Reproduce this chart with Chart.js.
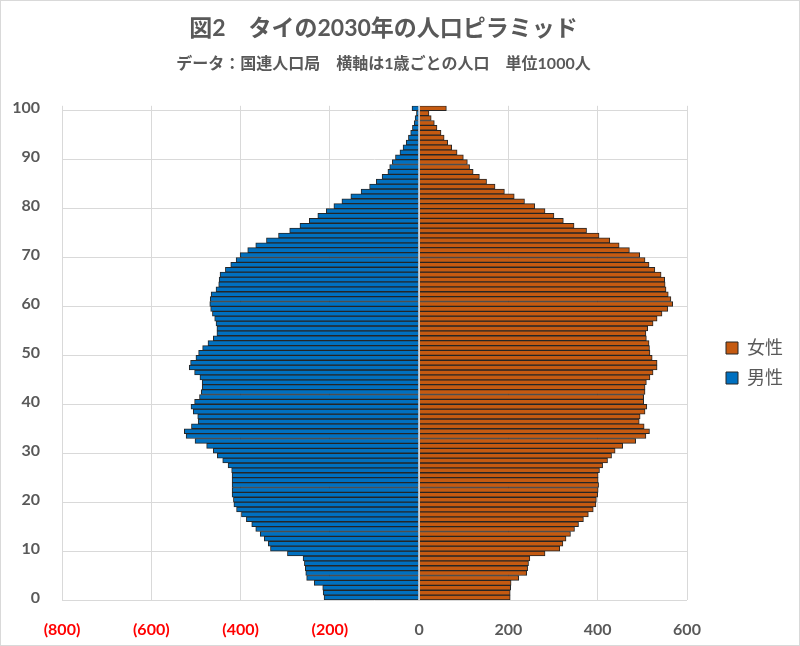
<!DOCTYPE html>
<html>
<head>
<meta charset="utf-8">
<script src="https://cdn.jsdelivr.net/npm/chart.js@4"></script>
<style>
  html, body { margin: 0; padding: 0; background: #fff; }
  #wrap { width: 798px; height: 644px; border: 1px solid #d9d9d9; }
</style>
</head>
<body>
<div id="wrap"><canvas id="canvas" width="798" height="644"></canvas></div>
<script>
// age 0 .. 100 (100 = 100+)
const ages = Array.from({ length: 101 }, (_, i) => String(i));

// thousands of people
const male = [
  213, 215, 216, 235, 252, 254, 255, 257, 260, 295,
  333, 338, 347, 356, 366, 375, 387, 398, 409, 415,
  416, 419, 419, 419, 419, 419, 420, 428, 440, 452,
  461, 476, 502, 522, 526, 510, 495, 496, 506, 511,
  503, 492, 488, 486, 486, 491, 503, 515, 512, 500,
  494, 485, 473, 461, 453, 453, 455, 458, 463, 467,
  469, 468, 466, 455, 449, 448, 446, 434, 422, 410,
  401, 384, 366, 342, 315, 290, 267, 246, 227, 208,
  191, 173, 153, 130, 111, 96, 83, 70, 66, 60,
  53, 43, 36, 29, 24, 19, 15, 11, 9, 6,
  16
];
const female = [
  204, 204, 205, 206, 223, 241, 243, 245, 248, 282,
  315, 322, 329, 339, 348, 357, 368, 379, 390, 396,
  397, 400, 401, 402, 401, 401, 404, 411, 422, 431,
  439, 456, 485, 508, 516, 504, 493, 495, 506, 510,
  503, 503, 506, 506, 509, 517, 524, 533, 533, 522,
  517, 516, 515, 509, 508, 512, 524, 533, 544, 557,
  568, 564, 558, 553, 551, 550, 542, 528, 515, 506,
  494, 471, 448, 427, 403, 375, 347, 323, 302, 282,
  259, 236, 213, 191, 170, 151, 135, 121, 113, 108,
  99, 85, 73, 64, 56, 49, 40, 34, 27, 22,
  61
];

const FONT = "Lato, 'Noto Sans CJK JP', sans-serif";
const GREY = '#595959';

// y axis line at 0 is drawn on top of the bars
const zeroLine = {
  id: 'zeroLine',
  afterDatasetsDraw(chart) {
    const x = chart.scales.x.getPixelForValue(0);
    const a = chart.chartArea;
    const c = chart.ctx;
    c.save();
    c.strokeStyle = '#cfd4da';
    c.lineWidth = 1.5;
    c.beginPath();
    c.moveTo(x, a.top);
    c.lineTo(x, a.bottom);
    c.stroke();
    c.restore();
  }
};

// nudge the legend into the empty space on the right, like Excel does
const legendShift = {
  id: 'legendShift',
  afterLayout(chart) {
    const lg = chart.legend;
    lg.left += 27;
    lg.right += 27;
    lg.top += 40;
    lg.bottom += 40;
  }
};

new Chart(document.getElementById('canvas'), {
  type: 'bar',
  data: {
    labels: ages,
    datasets: [
      {
        label: '男性',
        data: male.map(v => -v),
        backgroundColor: '#0070C0',
        borderColor: '#262626',
        borderWidth: 1
      },
      {
        label: '女性',
        data: female,
        backgroundColor: '#C55A11',
        borderColor: '#262626',
        borderWidth: 1
      }
    ]
  },
  options: {
    indexAxis: 'y',
    responsive: false,
    animation: false,
    barPercentage: 1,
    categoryPercentage: 1,
    layout: { padding: { left: 0, right: 33, top: 0, bottom: 0 } },
    scales: {
      x: {
        stacked: true,
        min: -800,
        max: 600,
        afterFit: s => { s.height = 45; },
        ticks: {
          stepSize: 200,
          padding: 20,
          font: { family: FONT, size: 16, weight: 'bold' },
          color: ctx => ctx.tick && ctx.tick.value < 0 ? '#FF0000' : GREY,
          callback: v => v < 0 ? '(' + (-v) + ')' : String(v)
        },
        grid: { color: '#d9d9d9', drawTicks: false },
        border: { display: false }
      },
      y: {
        stacked: true,
        reverse: true,
        afterFit: s => { s.width = 61; },
        ticks: {
          autoSkip: false,
          padding: 22,
          font: { family: FONT, size: 16, weight: 'bold' },
          color: GREY,
          callback: (v, i) => i % 10 === 0 ? ages[i] : ''
        },
        grid: {
          drawTicks: false,
          color: ctx => ctx.index % 10 === 0 ? '#d9d9d9' : 'rgba(0,0,0,0)'
        },
        border: { display: false }
      }
    },
    plugins: {
      title: {
        display: true,
        text: '図2　タイの2030年の人口ピラミッド',
        color: GREY,
        font: { family: FONT, size: 23, weight: 'bold' },
        padding: { top: 14, bottom: 12 }
      },
      subtitle: {
        display: true,
        text: 'データ：国連人口局　横軸は1歳ごとの人口　単位1000人',
        color: GREY,
        font: { family: FONT, size: 16, weight: 'bold' },
        padding: { bottom: 32 }
      },
      legend: {
        position: 'right',
        reverse: true,
        labels: {
          boxWidth: 12,
          boxHeight: 12,
          padding: 12,
          color: GREY,
          font: { family: FONT, size: 18 }
        }
      },
      tooltip: { enabled: false }
    }
  },
  plugins: [zeroLine, legendShift]
});
</script>
</body>
</html>
